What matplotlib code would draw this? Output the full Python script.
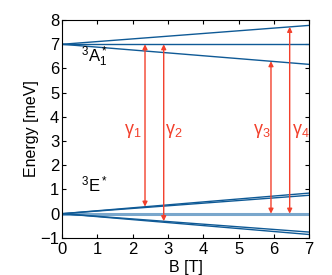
import numpy as np
import matplotlib
matplotlib.use("Agg")
import matplotlib.pyplot as plt

plt.rcParams["font.family"] = ["Liberation Sans", "DejaVu Sans"]
plt.rcParams["mathtext.fontset"] = "custom"
plt.rcParams["mathtext.rm"] = "Liberation Sans"
plt.rcParams["mathtext.it"] = "Liberation Sans"
plt.rcParams["mathtext.bf"] = "Liberation Sans:bold"

# field range and level endpoints (energy at B=0 and B=7)
B = [0, 7]
A_levels = [[7.0, 7.78], [7.0, 7.0], [7.0, 6.17]]
E_levels = [[0.0, 0.85], [0.0, 0.76], [0.0, -0.76], [0.0, -0.86]]
E_zero = [0.0, 0.0]

# transitions: field, top energy, bottom energy
trans_B = [2.35, 2.88, 5.92, 6.45]
trans_top = [7.0, 7.0, 6.30, 7.72]
trans_bot = [0.29, -0.31, 0.0, 0.0]
trans_labels = ["γ$_1$", "γ$_2$", "γ$_3$", "γ$_4$"]
label_x = [2.0, 3.17, 5.65, 6.76]
label_y = [3.4, 3.4, 3.4, 3.4]

blue = "#0f5a96"
light_blue = "#7aa7cc"
red = "#f2402c"

fig = plt.figure(figsize=(3.32, 2.75), dpi=100)
ax = fig.add_axes([0.187, 0.135, 0.744, 0.792])

for lv in A_levels:
    ax.plot(B, lv, color=blue, lw=1.0)
ax.plot(B, E_zero, color=light_blue, lw=2.2)
for lv in E_levels:
    ax.plot(B, lv, color=blue, lw=1.0)

for x, t, b in zip(trans_B, trans_top, trans_bot):
    ax.annotate("", xy=(x, t), xytext=(x, b),
                arrowprops=dict(arrowstyle="<|-|>", color=red, lw=1.0,
                                mutation_scale=7, shrinkA=0, shrinkB=0))

for lx, ly, s in zip(label_x, label_y, trans_labels):
    ax.text(lx, ly, s, color=red, fontsize=13, ha="center", va="center")

ax.text(0.55, 6.5, "$^3$A$_1^*$", fontsize=12, va="center")
ax.text(0.55, 1.2, "$^3$E$^*$", fontsize=12, va="center")

ax.set_xlim(0, 7)
ax.set_ylim(-1, 8)
ax.set_xticks(range(0, 8))
ax.set_yticks(range(-1, 9))
ax.tick_params(direction="in", top=True, right=True, length=3, labelsize=12)
ax.tick_params(axis="x", pad=3)
ax.tick_params(axis="y", pad=2)
ax.set_xlabel("B [T]", fontsize=11.5, labelpad=2)
ax.set_ylabel("Energy [meV]", fontsize=11.5, labelpad=1)

fig.savefig("out.png", dpi=100)
